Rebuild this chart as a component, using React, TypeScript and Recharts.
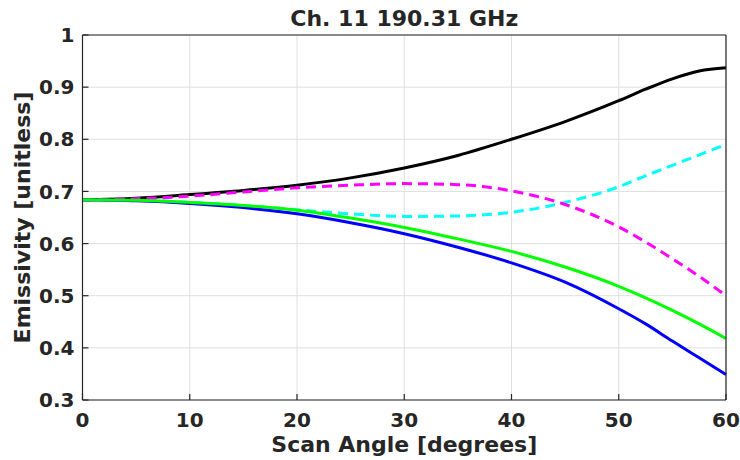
import React from 'react';
import { LineChart, Line, XAxis, YAxis, CartesianGrid } from 'recharts';

const angles = [0, 5, 10, 15, 20, 25, 30, 35, 40, 45, 50, 52.5, 55, 57.5, 60];
const blackSeries = [0.684, 0.687, 0.694, 0.702, 0.712, 0.726, 0.745, 0.769, 0.800, 0.834, 0.874, 0.896, 0.916, 0.931, 0.937];
const magentaSeries = [0.684, 0.686, 0.691, 0.699, 0.707, 0.712, 0.715, 0.713, 0.701, 0.675, 0.632, 0.603, 0.571, 0.537, 0.500];
const cyanSeries = [0.684, 0.683, 0.679, 0.673, 0.665, 0.657, 0.652, 0.653, 0.660, 0.679, 0.709, 0.730, 0.750, 0.770, 0.790];
const greenSeries = [0.684, 0.683, 0.679, 0.673, 0.664, 0.649, 0.631, 0.609, 0.585, 0.555, 0.518, 0.496, 0.472, 0.446, 0.418];
const blueSeries = [0.684, 0.682, 0.677, 0.669, 0.657, 0.640, 0.619, 0.593, 0.563, 0.526, 0.475, 0.446, 0.413, 0.381, 0.349];
const xTicks = [0, 10, 20, 30, 40, 50, 60];
const yTicks = [0.3, 0.4, 0.5, 0.6, 0.7, 0.8, 0.9, 1];

const titleText = 'Ch. 11 190.31 GHz';
const xLabelText = 'Scan Angle [degrees]';
const yLabelText = 'Emissivity [unitless]';

const data = angles.map((a, i) => ({
  angle: a,
  black: blackSeries[i],
  magenta: magentaSeries[i],
  cyan: cyanSeries[i],
  green: greenSeries[i],
  blue: blueSeries[i],
}));

const FONT = '"DejaVu Sans", sans-serif';
const INK = '#262626';
const W = 740;
const H = 460;
const PL = 82.5;
const PR = 726;
const PT = 35;
const PB = 400;

const tickStyle = { fill: INK, fontSize: 20, fontWeight: 'bold' as const, fontFamily: FONT };

const fmtY = (v: number) => (v === 1 ? '1' : v.toFixed(1));

export default function App() {
  const topH = 5;
  const rightW = 5;
  const bottomH = 30;
  return (
    <div style={{ position: 'absolute', left: 0, top: 0, width: W, height: H, background: '#fff' }}>
      <LineChart
        width={W}
        height={H}
        data={data}
        margin={{ top: PT - topH, right: W - PR - rightW, bottom: H - PB - bottomH, left: 0 }}
      >
        <CartesianGrid stroke="#dfdfdf" strokeWidth={1} horizontalValues={yTicks} verticalValues={xTicks} />
        <XAxis
          dataKey="angle"
          type="number"
          domain={[0, 60]}
          ticks={xTicks}
          interval={0}
          height={bottomH}
          tickSize={-6}
          tickMargin={19}
          tick={tickStyle}
          axisLine={{ stroke: INK, strokeWidth: 1.2 }}
          tickLine={{ stroke: INK, strokeWidth: 1.2 }}
          label={{
            content: () => (
              <text x={(PL + PR) / 2} y={452} textAnchor="middle" fill={INK} fontSize={22} fontWeight="bold" fontFamily={FONT}>
                {xLabelText}
              </text>
            ),
          }}
        />
        <XAxis
          xAxisId="top"
          orientation="top"
          type="number"
          dataKey="angle"
          domain={[0, 60]}
          ticks={xTicks}
          interval={0}
          height={topH}
          tickSize={-6}
          tick={false}
          axisLine={{ stroke: INK, strokeWidth: 1.2 }}
          tickLine={{ stroke: INK, strokeWidth: 1.2 }}
          label={{
            content: () => (
              <text x={(PL + PR) / 2} y={26} textAnchor="middle" fill={INK} fontSize={22} fontWeight="bold" fontFamily={FONT}>
                {titleText}
              </text>
            ),
          }}
        />
        <YAxis
          type="number"
          domain={[0.3, 1]}
          ticks={yTicks}
          interval={0}
          width={PL}
          tickSize={-6}
          tickMargin={14}
          tickFormatter={fmtY}
          tick={tickStyle}
          allowDataOverflow
          axisLine={{ stroke: INK, strokeWidth: 1.2 }}
          tickLine={{ stroke: INK, strokeWidth: 1.2 }}
          label={{
            content: () => (
              <text
                x={30}
                y={(PT + PB) / 2}
                transform={`rotate(-90, 30, ${(PT + PB) / 2})`}
                textAnchor="middle"
                fill={INK}
                fontSize={22}
                fontWeight="bold"
                fontFamily={FONT}
              >
                {yLabelText}
              </text>
            ),
          }}
        />
        <YAxis
          yAxisId="right"
          orientation="right"
          type="number"
          domain={[0.3, 1]}
          ticks={yTicks}
          interval={0}
          width={rightW}
          tickSize={-6}
          tick={false}
          allowDataOverflow
          axisLine={{ stroke: INK, strokeWidth: 1.2 }}
          tickLine={{ stroke: INK, strokeWidth: 1.2 }}
        />
        <Line type="monotone" dataKey="black" stroke="#000000" strokeWidth={3} dot={false} isAnimationActive={false} />
        <Line type="monotone" dataKey="cyan" stroke="#00ffff" strokeWidth={3} strokeDasharray="10 6" dot={false} isAnimationActive={false} />
        <Line type="monotone" dataKey="magenta" stroke="#ff00ff" strokeWidth={3} strokeDasharray="10 6" dot={false} isAnimationActive={false} />
        <Line type="monotone" dataKey="blue" stroke="#0000ff" strokeWidth={3} dot={false} isAnimationActive={false} />
        <Line type="monotone" dataKey="green" stroke="#00ff00" strokeWidth={3} dot={false} isAnimationActive={false} />
      </LineChart>
    </div>
  );
}
